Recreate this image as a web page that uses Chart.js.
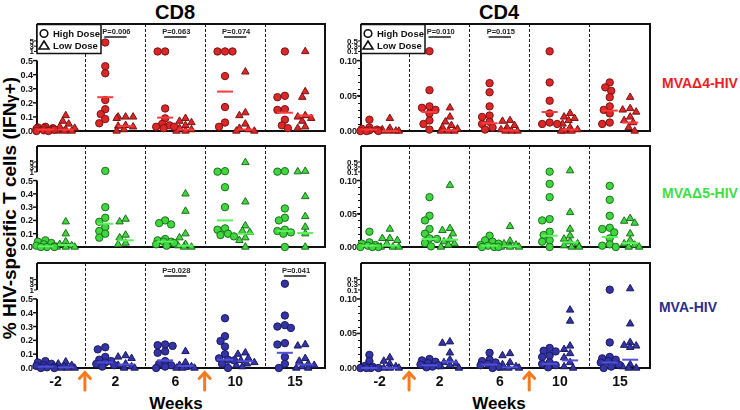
<!DOCTYPE html>
<html>
<head>
<meta charset="utf-8">
<script src="https://cdn.jsdelivr.net/npm/chart.js@4.4.1/dist/chart.umd.min.js"></script>
<style>
  body { margin: 0; width: 740px; height: 410px; position: relative; background: #fff; overflow: hidden;
         font-family: 'Liberation Sans', Arial, sans-serif; }
  canvas { position: absolute; }
  .txt { position: absolute; font-weight: bold; white-space: nowrap; transform: translate(-50%, -50%); }
</style>
</head>
<body>

<div class="txt" style="left:175px; top:12px; font-size:20px;">CD8</div>
<div class="txt" style="left:499px; top:12px; font-size:20px;">CD4</div>
<div class="txt" style="left:10px; top:208px; font-size:19px; transform: translate(-50%, -50%) rotate(-90deg);">% HIV-specific T cells (IFN<span style="font-size:15px">γ</span>+)</div>
<div class="txt" style="left:176px; top:404px; font-size:17px;">Weeks</div>
<div class="txt" style="left:499px; top:404px; font-size:17px;">Weeks</div>
<div class="txt" style="left:700px; top:83px; font-size:14px; color:#ee1d23;">MVAΔ4-HIV</div>
<div class="txt" style="left:700px; top:193px; font-size:14px; color:#3ddf3d;">MVAΔ5-HIV</div>
<div class="txt" style="left:688px; top:307px; font-size:14px; color:#2b2e8c;">MVA-HIV</div>

<canvas id="cd8_r1"></canvas>
<canvas id="cd8_r2"></canvas>
<canvas id="cd8_r3"></canvas>
<canvas id="cd4_r1"></canvas>
<canvas id="cd4_r2"></canvas>
<canvas id="cd4_r3"></canvas>

<script>
// weeks on the x axis
const weekLabels = ['-2', '2', '6', '10', '15'];
const arrowAfter = [0, 2];   // vaccination arrows sit after these week indexes

// y tick labels (the axis is broken above the low range)
const cd8LowTicks = [0, 0.1, 0.2, 0.3, 0.4, 0.5];
const cd8UpTicks = [1, 3, 5];
const cd4LowTicks = [0, 0.05, 0.10];
const cd4UpTicks = [0.1, 0.3, 0.5];

// ---- CD8, MVAΔ4-HIV
const cd8D4High = [
  [0.03, 0.025, 0.02, 0.02, 0.015, 0.01, 0.01, 0.005, 0, 0],
  [4.4, 0.46, 0.41, 0.22, 0.155, 0.12, 0.085, 0.055],
  [1.0, 1.0, 0.16, 0.09, 0.05, 0.04, 0.03, 0.03, 0.02],
  [1.0, 1.0, 1.0, 0.39, 0.17, 0.06, 0.03],
  [1.0, 0.25, 0.24, 0.155, 0.15, 0.08, 0.04, 0.02]
];
const cd8D4Low = [
  [0.11, 0.07, 0.05, 0.03, 0.02, 0.01, 0, 0, 0],
  [0.1, 0.1, 0.1, 0.09, 0.04, 0.035, 0.03, 0.01, 0],
  [0.09, 0.07, 0.06, 0.04, 0.02, 0.01, 0, 0],
  [0.42, 0.13, 0.11, 0.05, 0.02, 0.01, 0, 0],
  [1.0, 0.28, 0.24, 0.11, 0.1, 0.09, 0.07, 0.03, 0.02]
];
const cd8D4MedHigh = [0.01, 0.24, 0.095, 0.28, 0.13];
const cd8D4MedLow = [0.01, 0.035, 0.01, 0.01, 0.11];
const cd8D4P = [[1, 'P=0.006'], [2, 'P=0.063'], [3, 'P=0.074']];

// ---- CD4, MVAΔ4-HIV
const cd4D4High = [
  [0.016, 0.005, 0.003, 0.002, 0.001, 0, 0, 0],
  [0.11, 0.058, 0.035, 0.033, 0.03, 0.025, 0.015, 0.01, 0.002],
  [0.068, 0.055, 0.035, 0.022, 0.02, 0.013, 0.01, 0.005, 0.002],
  [0.105, 0.069, 0.043, 0.025, 0.012, 0.01, 0.01],
  [0.069, 0.062, 0.057, 0.048, 0.035, 0.03, 0.025, 0.012, 0.01]
];
const cd4D4Low = [
  [0.018, 0.004, 0.002, 0, 0, 0, 0],
  [0.033, 0.02, 0.013, 0.008, 0.005, 0.003, 0, 0, 0],
  [0.015, 0.014, 0.008, 0.005, 0.002, 0, 0, 0],
  [0.025, 0.02, 0.018, 0.015, 0.01, 0.005, 0.002, 0, 0, 0],
  [0.048, 0.032, 0.03, 0.027, 0.02, 0.015, 0.012, 0.005, 0]
];
const cd4D4MedHigh = [0.002, 0.027, 0.011, 0.027, 0.029];
const cd4D4MedLow = [0, 0.001, 0.001, 0.002, 0.012];
const cd4D4P = [[1, 'P=0.010'], [2, 'P=0.015']];

// ---- CD8, MVAΔ5-HIV
const cd8D5High = [
  [0.05, 0.04, 0.03, 0.02, 0.01, 0.005, 0, 0, 0],
  [1.4, 0.3, 0.22, 0.19, 0.15, 0.12, 0.1, 0.07],
  [0.2, 0.18, 0.17, 0.06, 0.05, 0.04, 0.04, 0.03, 0.02, 0.01],
  [1.3, 1.1, 0.45, 0.3, 0.14, 0.13, 0.1, 0.09, 0.08],
  [1.3, 1.1, 0.29, 0.22, 0.2, 0.13, 0.12, 0.11, 0.1, 0]
];
const cd8D5Low = [
  [0.19, 0.1, 0.04, 0.02, 0.01, 0, 0, 0],
  [0.21, 0.19, 0.09, 0.07, 0.03, 0.02],
  [0.4, 0.27, 0.1, 0.07, 0.02, 0.01, 0, 0],
  [4.8, 0.34, 0.16, 0.12, 0.11, 0.07, 0.05, 0],
  [1.3, 1.1, 0.38, 0.23, 0.15, 0.1, 0]
];
const cd8D5MedHigh = [0.005, 0.175, 0.04, 0.2, 0.12];
const cd8D5MedLow = [0.015, 0.05, 0.01, 0.1, 0.105];
const cd8D5P = [];

// ---- CD4, MVAΔ5-HIV
const cd4D5High = [
  [0.023, 0.007, 0.005, 0.003, 0.002, 0, 0, 0],
  [0.075, 0.047, 0.04, 0.027, 0.02, 0.013, 0.012, 0.006, 0.001],
  [0.017, 0.01, 0.008, 0.005, 0.003, 0.002, 0, 0, 0],
  [0.11, 0.095, 0.075, 0.042, 0.04, 0.023, 0.018, 0.01, 0.008, 0],
  [0.092, 0.071, 0.047, 0.029, 0.027, 0.022, 0.013, 0.004, 0.002, 0]
];
const cd4D5Low = [
  [0.027, 0.013, 0.013, 0.01, 0.005, 0, 0, 0],
  [0.093, 0.028, 0.025, 0.02, 0.012, 0.008, 0.005, 0.003, 0],
  [0.031, 0.009, 0.005, 0.003, 0.002, 0, 0, 0],
  [0.15, 0.052, 0.027, 0.017, 0.012, 0.008, 0.005, 0.002, 0, 0],
  [0.043, 0.039, 0.036, 0.02, 0.01, 0.005, 0.003, 0, 0]
];
const cd4D5MedHigh = [0.002, 0.012, 0.002, 0.017, 0.015];
const cd4D5MedLow = [0.002, 0.011, 0.001, 0.007, 0.006];
const cd4D5P = [];

// ---- CD8, MVA-HIV
const cd8MvaHigh = [
  [0.05, 0.04, 0.03, 0.02, 0.015, 0.01, 0.005, 0, 0],
  [0.15, 0.135, 0.08, 0.06, 0.05, 0.04, 0.03, 0.02, 0.01],
  [0.17, 0.165, 0.16, 0.12, 0.11, 0.05, 0.03, 0.02, 0.01, 0],
  [0.36, 0.23, 0.195, 0.155, 0.1, 0.07, 0.06, 0.055, 0.03, 0],
  [3.4, 0.38, 0.31, 0.3, 0.29, 0.18, 0.17, 0.08, 0.03, 0]
];
const cd8MvaLow = [
  [0.045, 0.03, 0.02, 0.01, 0.005, 0, 0, 0],
  [0.09, 0.08, 0.07, 0.03, 0.02, 0.01, 0, 0],
  [0.12, 0.04, 0.02, 0.01, 0.005, 0, 0, 0],
  [0.11, 0.1, 0.07, 0.055, 0.04, 0.03, 0.02, 0.01],
  [0.17, 0.16, 0.07, 0.05, 0.03, 0.02, 0.01, 0, 0]
];
const cd8MvaMedHigh = [0.01, 0.04, 0.055, 0.06, 0.11];
const cd8MvaMedLow = [0.005, 0.025, 0.015, 0.05, 0.025];
const cd8MvaP = [[2, 'P=0.028'], [4, 'P=0.041']];

// ---- CD4, MVA-HIV
const cd4MvaHigh = [
  [0.019, 0.01, 0.003, 0.002, 0, 0, 0, 0],
  [0.013, 0.011, 0.009, 0.007, 0.005, 0.004, 0.002, 0.001],
  [0.022, 0.012, 0.01, 0.008, 0.006, 0.004, 0.002, 0],
  [0.029, 0.025, 0.024, 0.018, 0.016, 0.008, 0.006, 0.004, 0.001],
  [0.11, 0.037, 0.016, 0.014, 0.012, 0.01, 0.008, 0.005, 0.002, 0]
];
const cd4MvaLow = [
  [0.015, 0.01, 0.006, 0.002, 0, 0, 0],
  [0.038, 0.036, 0.022, 0.012, 0.008, 0.006, 0.004, 0.002, 0],
  [0.021, 0.018, 0.008, 0.005, 0.002, 0, 0, 0],
  [0.084, 0.068, 0.032, 0.027, 0.021, 0.015, 0.008, 0.002, 0],
  [0.15, 0.064, 0.037, 0.033, 0.032, 0.03, 0.005, 0.002, 0, 0]
];
const cd4MvaMedHigh = [0, 0.004, 0.005, 0.006, 0.008];
const cd4MvaMedLow = [0, 0.009, 0.001, 0.011, 0.012];
const cd4MvaP = [];

// ---- look
const RED = { fill: '#dd2626', edge: '#7a1414', median: '#ff3b3b' };
const GREEN = { fill: '#3ed83e', edge: '#1c6e1c', median: '#5cf25c' };
const BLUE = { fill: '#3434a8', edge: '#1a1a5e', median: '#5050d8' };
const FONT = "'Liberation Sans', Arial, sans-serif";

// display units: low range 0..lowMax -> 0..1, upper range squeezed above a gap
const BREAK_LO = 1.13, BREAK_HI = 1.28, Y_MAX = 1.52;
const X_MIN = -0.31, X_MAX = 4.5, DOSE_OFF = 0.17, SEP_OFF = 0.49;

const cd8Axis = { lowMax: 0.5, lowTicks: cd8LowTicks, upTicks: cd8UpTicks, digits: 1, minor: 0 };
const cd4Axis = { lowMax: 0.1, lowTicks: cd4LowTicks, upTicks: cd4UpTicks, digits: 2, minor: 0.01 };

function toDisp(v, ax) {
  if (v <= ax.lowMax) return v / ax.lowMax;
  const up = ax.upTicks;
  const t = Math.min(1, Math.max(0, (v - up[0]) / (up[up.length - 1] - up[0])));
  return BREAK_LO + t * (BREAK_HI - BREAK_LO);
}

// loose beeswarm: dots may overlap, but stay within ~10px of the group centre
function swarm(vals, center, ax) {
  const placed = [];
  return vals.slice().sort((a, b) => b - a).map(v => {
    const y = toDisp(v, ax), py = y * 72;
    let best = 0, bestCost = Infinity;
    for (let off = -9; off <= 9; off += 1.5) {
      let cost = Math.abs(off) * 0.04;
      placed.forEach(p => { cost += Math.max(0, 6.5 - Math.hypot(p.x - off, p.y - py)); });
      if (cost < bestCost - 1e-6) { bestCost = cost; best = off; }
    }
    placed.push({ x: best, y: py });
    return { x: center + best / 60, y: y };
  });
}

function line(ctx, x1, y1, x2, y2) {
  ctx.beginPath(); ctx.moveTo(x1, y1); ctx.lineTo(x2, y2); ctx.stroke();
}

const panelDecor = {
  id: 'panelDecor',
  beforeDatasetsDraw(chart, args, o) {
    const { ctx, chartArea: a, scales: { x, y } } = chart;
    const ax = o.axis;
    ctx.save();

    // dashed week separators
    ctx.strokeStyle = '#222'; ctx.lineWidth = 1; ctx.setLineDash([3, 2]);
    for (let i = 0; i < weekLabels.length - 1; i++) {
      const px = Math.round(x.getPixelForValue(i + SEP_OFF)) + 0.5;
      line(ctx, px, a.top, px, a.bottom);
    }
    ctx.setLineDash([]);

    // frame and broken y axis
    ctx.strokeStyle = '#111'; ctx.lineWidth = 2;
    ctx.beginPath();
    ctx.moveTo(a.left, a.top); ctx.lineTo(a.right, a.top);
    ctx.lineTo(a.right, a.bottom); ctx.lineTo(a.left - 1, a.bottom);
    ctx.stroke();
    const yBreakUp = y.getPixelForValue(toDisp(ax.upTicks[0], ax) + 0.0001);
    line(ctx, a.left, a.top, a.left, yBreakUp);
    line(ctx, a.left, y.getPixelForValue(1), a.left, a.bottom);

    ctx.fillStyle = '#111';
    ctx.textAlign = 'right'; ctx.textBaseline = 'middle';
    // minor ticks
    if (ax.minor) {
      ctx.lineWidth = 1;
      for (let v = ax.minor; v < ax.lowMax - 1e-9; v += ax.minor) {
        const py = Math.round(y.getPixelForValue(v / ax.lowMax)) + 0.5;
        line(ctx, a.left - 3, py, a.left, py);
      }
    }
    // major ticks
    ctx.font = 'bold 9px ' + FONT; ctx.lineWidth = 1.5;
    ax.lowTicks.forEach(t => {
      const py = y.getPixelForValue(t / ax.lowMax);
      line(ctx, a.left - 4, py, a.left, py);
      ctx.fillText(t.toFixed(ax.digits), a.left - 4, py + 0.5);
    });
    // upper squeezed ticks
    ctx.font = 'bold 8px ' + FONT; ctx.lineWidth = 1;
    ax.upTicks.forEach((t, k) => {
      const py = y.getPixelForValue(BREAK_LO + k / (ax.upTicks.length - 1) * (BREAK_HI - BREAK_LO) + (k === 0 ? 0.0001 : 0));
      line(ctx, a.left - 3, py, a.left, py);
      ctx.fillText(String(t), a.left - 3, py + 0.5);
    });

    // week labels and vaccination arrows on the bottom row
    if (o.bottom) {
      ctx.textAlign = 'center'; ctx.font = 'bold 14px ' + FONT;
      weekLabels.forEach((w, i) => ctx.fillText(w, x.getPixelForValue(i), a.bottom + 14));
      ctx.strokeStyle = '#f47a20'; ctx.lineWidth = 3; ctx.lineCap = 'round';
      arrowAfter.forEach(i => {
        const px = x.getPixelForValue(i + SEP_OFF);
        line(ctx, px, a.bottom + 5, px, a.bottom + 22);
        ctx.beginPath();
        ctx.moveTo(px - 5.5, a.bottom + 10.5); ctx.lineTo(px, a.bottom + 4.5); ctx.lineTo(px + 5.5, a.bottom + 10.5);
        ctx.stroke();
      });
    }
    ctx.restore();
  },
  afterDatasetsDraw(chart, args, o) {
    const { ctx, chartArea: a, scales: { x } } = chart;
    ctx.save();
    // p-value brackets
    ctx.textAlign = 'center'; ctx.textBaseline = 'middle';
    o.pvals.forEach(([i, txt]) => {
      ctx.fillStyle = '#222'; ctx.font = 'bold 7.5px ' + FONT;
      ctx.fillText(txt, x.getPixelForValue(i) + 1, a.top + 7.5);
      ctx.strokeStyle = '#555'; ctx.lineWidth = 2;
      line(ctx, x.getPixelForValue(i - DOSE_OFF) - 1, a.top + 13, x.getPixelForValue(i + DOSE_OFF) + 1, a.top + 13);
    });
    // legend box
    if (o.legend) {
      const w = 64, h = 29, l = a.left, t = a.top;
      ctx.fillStyle = '#fff'; ctx.fillRect(l, t, w, h);
      ctx.strokeStyle = '#111'; ctx.lineWidth = 1.5; ctx.strokeRect(l, t + 0.5, w, h);
      ctx.lineWidth = 1.6;
      ctx.beginPath(); ctx.arc(l + 7, t + 9.5, 3.8, 0, Math.PI * 2); ctx.stroke();
      ctx.beginPath();
      ctx.moveTo(l + 7, t + 17); ctx.lineTo(l + 12, t + 25); ctx.lineTo(l + 2, t + 25); ctx.closePath();
      ctx.stroke();
      ctx.fillStyle = '#111'; ctx.textAlign = 'left'; ctx.font = 'bold 9.5px ' + FONT;
      ctx.fillText('High Dose', l + 16, t + 10);
      ctx.fillText('Low Dose', l + 16, t + 22);
    }
    ctx.restore();
  }
};

function makePanel(id, col, row, ax, high, low, medHigh, medLow, pvals, color) {
  const rows = [
    { top: 0, h: 141, pt: 24, pb: 6 },
    { top: 136, h: 121, pt: 6, pb: 6 },
    { top: 253, h: 157, pt: 6, pb: 42 }
  ];
  const cols = {
    cd8: { left: 0, w: 335, pl: 37, pr: 10 },
    cd4: { left: 318, w: 342, pl: 43, pr: 10 }
  };
  const r = rows[row], c = cols[col];
  const cv = document.getElementById(id);
  cv.width = c.w; cv.height = r.h;
  cv.style.left = c.left + 'px'; cv.style.top = r.top + 'px';

  const highPts = [], lowPts = [];
  high.forEach((vals, i) => highPts.push(...swarm(vals, i - DOSE_OFF, ax)));
  low.forEach((vals, i) => lowPts.push(...swarm(vals, i + DOSE_OFF, ax)));

  new Chart(cv, {
    type: 'scatter',
    data: {
      datasets: [
        {
          label: 'High Dose median',
          data: medHigh.map((m, i) => ({ x: i - DOSE_OFF, y: toDisp(m, ax) })),
          pointStyle: 'line', pointRadius: 8, borderWidth: 2, borderColor: color.median, clip: false
        },
        {
          label: 'Low Dose median',
          data: medLow.map((m, i) => ({ x: i + DOSE_OFF, y: toDisp(m, ax) })),
          pointStyle: 'line', pointRadius: 8, borderWidth: 2, borderColor: color.median, clip: false
        },
        {
          label: 'High Dose',
          data: highPts,
          pointStyle: 'circle', pointRadius: 3.7, borderWidth: 1,
          backgroundColor: color.fill, borderColor: color.edge, clip: false
        },
        {
          label: 'Low Dose',
          data: lowPts,
          pointStyle: 'triangle', pointRadius: 4.3, borderWidth: 1,
          backgroundColor: color.fill, borderColor: color.edge, clip: false
        }
      ]
    },
    options: {
      responsive: false,
      animation: false,
      events: [],
      layout: { padding: { left: c.pl, right: c.pr, top: r.pt, bottom: r.pb } },
      scales: {
        x: { type: 'linear', min: X_MIN, max: X_MAX, display: false },
        y: { type: 'linear', min: 0, max: Y_MAX, display: false }
      },
      plugins: {
        legend: { display: false },
        tooltip: { enabled: false },
        panelDecor: { axis: ax, pvals: pvals, legend: row === 0, bottom: row === 2 }
      }
    },
    plugins: [panelDecor]
  });
}

makePanel('cd8_r1', 'cd8', 0, cd8Axis, cd8D4High, cd8D4Low, cd8D4MedHigh, cd8D4MedLow, cd8D4P, RED);
makePanel('cd8_r2', 'cd8', 1, cd8Axis, cd8D5High, cd8D5Low, cd8D5MedHigh, cd8D5MedLow, cd8D5P, GREEN);
makePanel('cd8_r3', 'cd8', 2, cd8Axis, cd8MvaHigh, cd8MvaLow, cd8MvaMedHigh, cd8MvaMedLow, cd8MvaP, BLUE);
makePanel('cd4_r1', 'cd4', 0, cd4Axis, cd4D4High, cd4D4Low, cd4D4MedHigh, cd4D4MedLow, cd4D4P, RED);
makePanel('cd4_r2', 'cd4', 1, cd4Axis, cd4D5High, cd4D5Low, cd4D5MedHigh, cd4D5MedLow, cd4D5P, GREEN);
makePanel('cd4_r3', 'cd4', 2, cd4Axis, cd4MvaHigh, cd4MvaLow, cd4MvaMedHigh, cd4MvaMedLow, cd4MvaP, BLUE);
</script>
</body>
</html>
